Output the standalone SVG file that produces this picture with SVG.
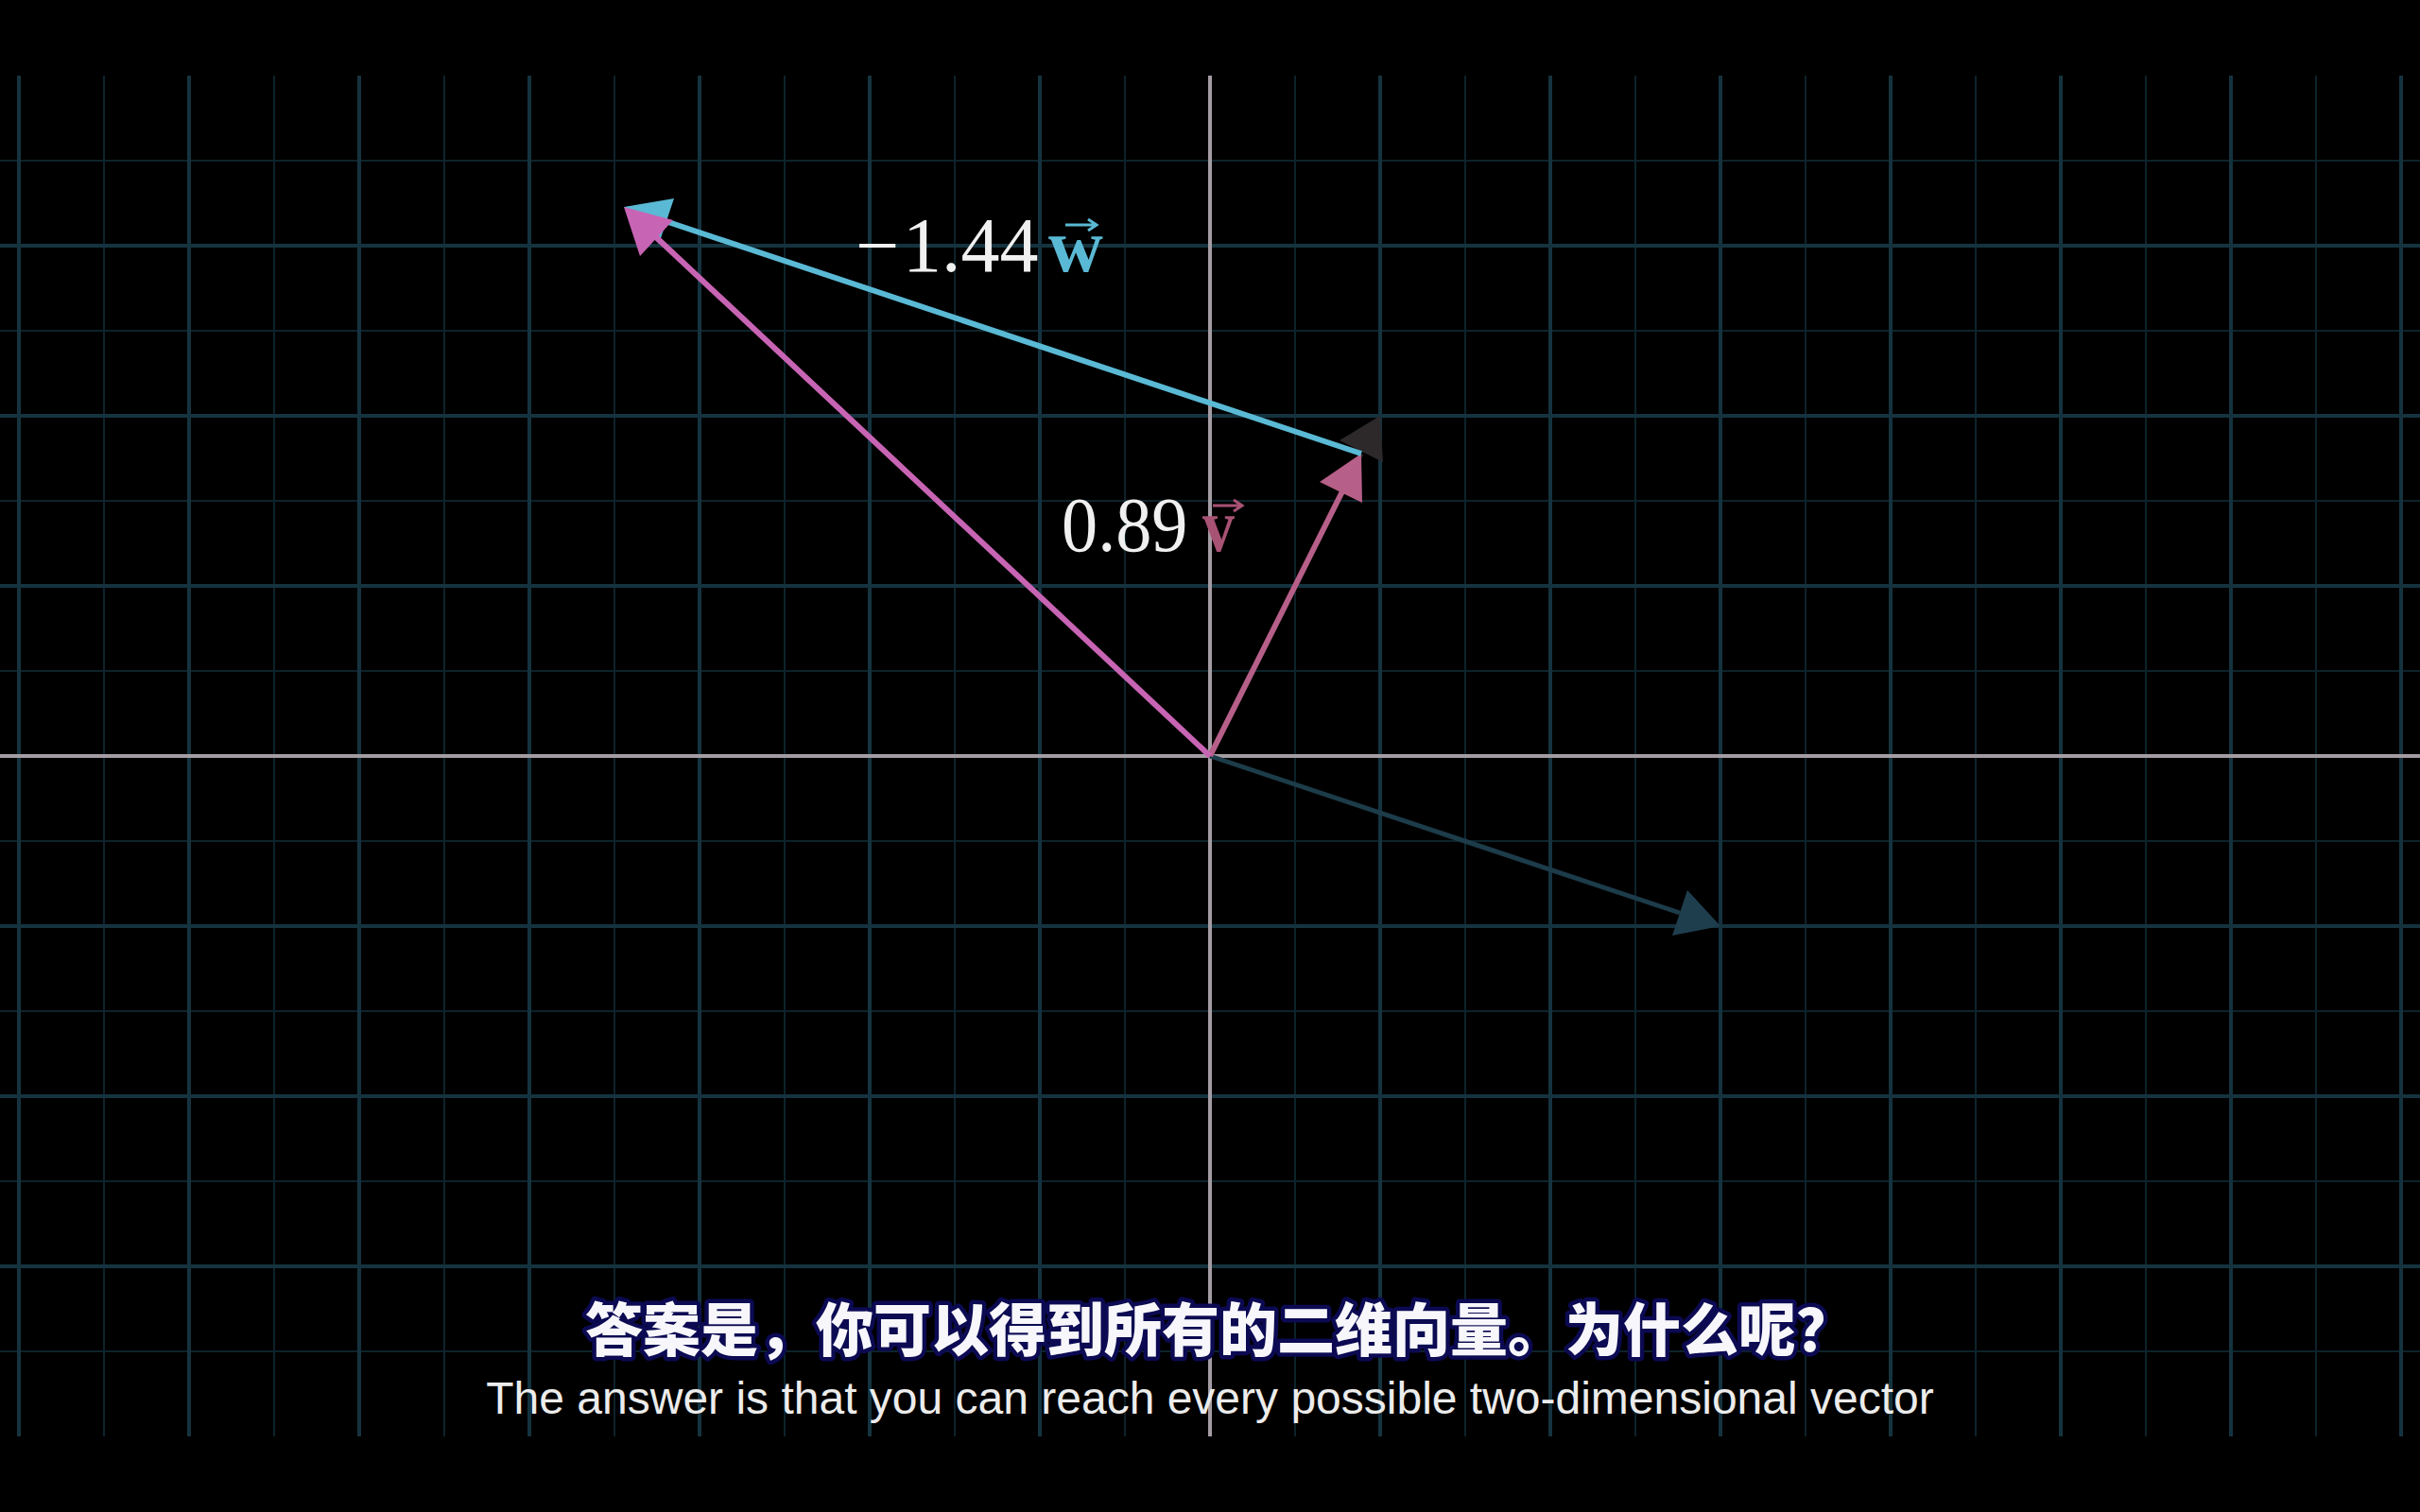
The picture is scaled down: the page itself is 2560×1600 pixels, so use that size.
<svg xmlns="http://www.w3.org/2000/svg" width="2560" height="1600" viewBox="0 0 2560 1600">
<style>
.maj{stroke:#15333f;stroke-width:4;fill:none}
.min{stroke:#0d232b;stroke-width:2;fill:none}
.axis{stroke:#a39ca3;stroke-width:4;fill:none}
.num{font-family:"Liberation Serif","DejaVu Serif",serif;font-size:82px;fill:#f0f0f0}
.vec{font-family:"Liberation Serif","DejaVu Serif",serif;font-size:80px;font-weight:bold}
.zh{font-family:"Noto Sans CJK SC","Noto Sans",sans-serif;font-size:61px;font-weight:900;fill:#f7f7fb;stroke:#0c0a52;stroke-width:9;stroke-linejoin:round;paint-order:stroke}
.en{font-family:"Liberation Sans","Arial",sans-serif;font-size:48px;fill:#ececec}
</style>
<rect width="2560" height="1600" fill="#000"/>
<g id="grid">
<g class="min">
<path d="M110 80V1520M290 80V1520M470 80V1520M650 80V1520M830 80V1520M1010 80V1520M1190 80V1520M1370 80V1520M1550 80V1520M1730 80V1520M1910 80V1520M2090 80V1520M2270 80V1520M2450 80V1520"/>
<path d="M0 170H2560M0 350H2560M0 530H2560M0 710H2560M0 890H2560M0 1070H2560M0 1250H2560M0 1430H2560"/>
</g>
<g class="maj">
<path d="M20 80V1520M200 80V1520M380 80V1520M560 80V1520M740 80V1520M920 80V1520M1100 80V1520M1460 80V1520M1640 80V1520M1820 80V1520M2000 80V1520M2180 80V1520M2360 80V1520M2540 80V1520"/>
<path d="M0 260H2560M0 440H2560M0 620H2560M0 980H2560M0 1160H2560M0 1340H2560"/>
</g>
<g class="axis">
<path d="M1280 80V1520M0 800H2560"/>
</g>
</g>
<g id="connectors">
<g id="w-original">
<line x1="1280" y1="800" x2="1777" y2="966" stroke="#1d3c4a" stroke-width="5"/>
<polygon points="1820,980 1785,942 1769,990" fill="#1f3e4d"/>
</g>
<g id="v-original">
<line x1="1280" y1="800" x2="1440" y2="480" stroke="#2d292b" stroke-width="5"/>
<polygon points="1460,440 1417,466 1463,489" fill="#2d292b"/>
</g>
<g id="v-scaled">
<line x1="1280" y1="800" x2="1420" y2="520" stroke="#b65f88" stroke-width="6"/>
<polygon points="1440,480 1396,510 1441,532" fill="#b65f88"/>
</g>
<g id="w-scaled">
<line x1="1440" y1="480" x2="704" y2="234" stroke="#5ab9d4" stroke-width="6"/>
<polygon points="660,219 713,210 697,258" fill="#5ab9d4"/>
</g>
<g id="sum">
<line x1="1280" y1="800" x2="694" y2="251" stroke="#c864b4" stroke-width="6"/>
<polygon points="660,219 712,233 677,271" fill="#c864b4"/>
</g>
</g>
<g id="label-w">
<text class="num" y="287"><tspan x="905">−</tspan><tspan x="955">1.44</tspan></text>
<text class="vec" x="1109" y="287" fill="#5ab9d4">w</text>
<path d="M1127 238H1159M1151 232L1160 238L1151 244" stroke="#5ab9d4" stroke-width="3" fill="none"/>
</g>
<g id="label-v">
<text class="num" transform="translate(1123,583) scale(0.93,1)">0.89</text>
<text class="vec" x="1272" y="583" fill="#a85274" transform="translate(1272,0) scale(0.85,1) translate(-1272,0)">v</text>
<path d="M1283 535H1313M1305 529L1314 535L1305 541" stroke="#a85274" stroke-width="3" fill="none"/>
</g>
<g id="subtitle">
<text class="zh" x="1290" y="1430" text-anchor="middle">答案是，你可以得到所有的二维向量。为什么呢？</text>
<text class="en" x="1280" y="1496" text-anchor="middle">The answer is that you can reach every possible two-dimensional vector</text>
</g>
</svg>
